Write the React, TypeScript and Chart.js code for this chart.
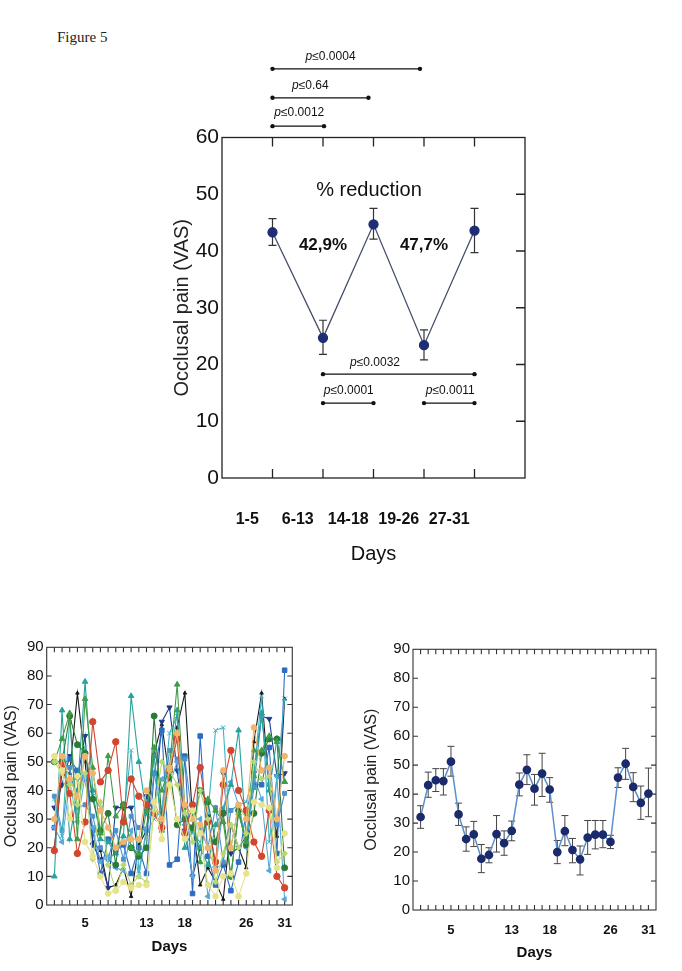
import React, { useEffect, useRef } from 'react';
import { Chart, registerables } from 'chart.js';
Chart.register(...registerables);

const FONT = 'Arial, "Liberation Sans", Helvetica, sans-serif';

// ---------- Top chart (period means) ----------
const periodLabels = ['1-5', '6-13', '14-18', '19-26', '27-31'];
const periodX = [1, 2, 3, 4, 5];
const periodMean = [43.3, 24.7, 44.7, 23.4, 43.6];
const periodLow = [41.0, 21.8, 42.1, 20.8, 39.7];
const periodHigh = [45.7, 27.8, 47.5, 26.1, 47.5];
const reductionText = ['42,9%', '47,7%'];
const reductionX = [2, 4];
const reductionY = [41, 41];
const sigFrom = [1, 1, 1, 2, 2, 4];
const sigTo = [3.92, 2.9, 2.02, 5, 3, 5];
const sigY = [72.1, 67, 62, 18.3, 13.2, 13.2];
const sigValue = ['0.0004', '0.64', '0.0012', '0.0032', '0.0001', '0.0011'];
const sigTextX = [2.15, 1.75, 1.53, 3.03, 2.51, 4.52];
const sigTextY = [74.2, 69.2, 64.4, 20.3, 15.4, 15.4];

// ---------- Bottom charts (daily) ----------
const days = [1, 2, 3, 4, 5, 6, 7, 8, 9, 10, 11, 12, 13, 14, 15, 16, 17, 18, 19, 20, 21, 22, 23, 24, 25, 26, 27, 28, 29, 30, 31];
const dayTickLabels = [5, 13, 18, 26, 31];

const sRed = [19, 49, 39, 18, 29, 64, 43, 47, 57, 29, 44, 38, 35, 32, 27, 47, 58, 25, 35, 48, 29, 15, 42, 54, 40, 33, 22, 17, 33, 10, 6];
const sOrange = [30, 52, 44, 38, 52, 46, 33, 27, 20, 22, 23, 23, 40, 36, 30, 48, 60, 35, 30, 28, 20, 12, 47, 20, 35, 30, 62, 47, 48, 30, 52];
const sYellow = [52, 47, 30, 45, 22, 17, 10, 4, 5, 8, 6, 7, 7, 36, 23, 42, 30, 23, 33, 25, 7, 3, 10, 11, 3, 11, 36, 35, 34, 13, 25];
const sLime = [50, 46, 42, 35, 46, 16, 36, 14, 5, 14, 7, 10, 8, 33, 50, 47, 42, 32, 22, 40, 30, 8, 18, 28, 20, 25, 50, 44, 45, 15, 18];
const sGreen = [50, 58, 67, 23, 72, 48, 25, 52, 31, 35, 20, 18, 33, 55, 40, 48, 77, 34, 32, 15, 37, 33, 29, 10, 32, 22, 54, 54, 59, 57, 43];
const sDarkGreen = [50, 50, 66, 56, 53, 37, 26, 32, 14, 35, 20, 17, 20, 66, 30, 48, 28, 30, 27, 40, 36, 22, 32, 10, 33, 21, 32, 53, 58, 58, 13];
const sTeal = [10, 68, 23, 40, 78, 40, 23, 22, 18, 24, 73, 50, 32, 52, 26, 45, 68, 20, 26, 20, 14, 28, 33, 42, 61, 24, 45, 67, 40, 58, 43];
const sCyan = [37, 24, 65, 30, 55, 38, 34, 15, 19, 30, 54, 12, 25, 30, 33, 60, 66, 33, 25, 22, 32, 61, 62, 20, 35, 36, 46, 73, 22, 45, 72];
const sLightBlue = [27, 22, 43, 29, 45, 27, 15, 17, 13, 12, 26, 10, 27, 36, 44, 42, 50, 28, 10, 30, 3, 13, 34, 43, 35, 20, 45, 37, 12, 45, 2];
const sBlue = [27, 49, 51, 47, 44, 26, 11, 23, 19, 21, 11, 20, 11, 46, 61, 14, 16, 52, 4, 59, 17, 7, 14, 5, 15, 33, 42, 42, 55, 18, 82];
const sNavy = [34, 42, 52, 44, 59, 21, 16, 6, 34, 34, 34, 17, 38, 32, 64, 69, 47, 26, 10, 20, 31, 13, 46, 18, 20, 24, 46, 66, 65, 45, 46];
const sBlack = [20, 47, 46, 74, 50, 22, 19, 6, 7, 13, 3, 21, 26, 53, 63, 44, 62, 74, 30, 7, 13, 8, 2, 28, 20, 13, 57, 74, 40, 24, 72];
const sSteel = [38, 26, 48, 34, 35, 31, 20, 16, 26, 16, 31, 27, 26, 46, 32, 54, 51, 51, 30, 27, 20, 34, 15, 33, 35, 22, 41, 66, 42, 28, 39];

const dailyMean = [32.1, 43.1, 44.8, 44.5, 51.2, 33.0, 24.5, 26.1, 17.7, 19.0, 26.2, 23.1, 27.3, 43.3, 48.4, 41.9, 47.1, 41.6, 20.0, 27.2, 20.7, 17.5, 25.0, 26.0, 26.0, 23.5, 45.7, 50.5, 42.5, 37.0, 40.2];
const dailyLow = [28.2, 38.9, 40.9, 39.7, 46.2, 29.2, 20.3, 21.9, 12.9, 16.3, 20.0, 18.9, 23.9, 39.4, 43.3, 36.2, 39.2, 37.2, 16.0, 22.2, 16.3, 12.1, 19.2, 21.1, 21.5, 21.2, 42.3, 45.1, 37.4, 31.3, 32.2];
const dailyHigh = [36.0, 47.6, 48.8, 48.8, 56.5, 36.9, 28.7, 30.6, 22.6, 21.5, 32.6, 27.3, 30.7, 47.3, 53.6, 46.8, 54.1, 45.7, 24.0, 32.6, 24.7, 22.1, 30.9, 30.9, 30.9, 25.8, 49.1, 55.8, 47.4, 42.8, 49.0];

const seriesStyles = [
  { data: sYellow, color: '#e6e38a', style: 'circle', rot: 0, r: 2.8 },
  { data: sOrange, color: '#f1b46c', style: 'circle', rot: 0, r: 2.8 },
  { data: sLime, color: '#b8d872', style: 'rectRot', rot: 0, r: 2.8 },
  { data: sRed, color: '#d2452f', style: 'circle', rot: 0, r: 3.2 },
  { data: sGreen, color: '#3e9d45', style: 'triangle', rot: 0, r: 3.2 },
  { data: sDarkGreen, color: '#2c7a3a', style: 'circle', rot: 0, r: 3 },
  { data: sTeal, color: '#27a39a', style: 'triangle', rot: 0, r: 3.2 },
  { data: sCyan, color: '#3fb3c6', style: 'crossRot', rot: 0, r: 3.2 },
  { data: sLightBlue, color: '#58a8dd', style: 'triangle', rot: -90, r: 3 },
  { data: sSteel, color: '#4f8fcf', style: 'rect', rot: 0, r: 2.8 },
  { data: sBlue, color: '#2d6cc2', style: 'rect', rot: 0, r: 3.2 },
  { data: sNavy, color: '#1f3c8c', style: 'triangle', rot: 180, r: 3 },
  { data: sBlack, color: '#1a1a1a', style: 'triangle', rot: 0, r: 2 },
];

// ---------- plugins ----------
function makeFrame(id: string, o: any) {
  return {
    id,
    beforeDatasetsDraw(chart: any) {
      const { ctx, chartArea: a, scales } = chart;
      ctx.save();
      ctx.strokeStyle = o.color;
      ctx.lineWidth = o.width;
      ctx.strokeRect(a.left, a.top, a.right - a.left, a.bottom - a.top);
      ctx.beginPath();
      (o.xTicks || []).forEach((v: number) => {
        const px = scales.x.getPixelForValue(v);
        ctx.moveTo(px, a.top); ctx.lineTo(px, a.top + o.len);
        ctx.moveTo(px, a.bottom); ctx.lineTo(px, a.bottom - o.len);
      });
      (o.yLeft || []).forEach((v: number) => {
        const py = scales.y.getPixelForValue(v);
        ctx.moveTo(a.left, py); ctx.lineTo(a.left + o.len, py);
      });
      (o.yRight || []).forEach((v: number) => {
        const py = scales.y.getPixelForValue(v);
        ctx.moveTo(a.right, py); ctx.lineTo(a.right - o.len, py);
      });
      ctx.stroke();
      ctx.restore();
    },
  };
}

function makeErrorBars(id: string, xs: number[], low: number[], high: number[], o: any) {
  return {
    id,
    beforeDatasetsDraw(chart: any) {
      const { ctx, scales } = chart;
      ctx.save();
      ctx.strokeStyle = o.color;
      ctx.lineWidth = o.width;
      ctx.beginPath();
      xs.forEach((xv, i) => {
        const px = scales.x.getPixelForValue(xv);
        const pl = scales.y.getPixelForValue(low[i]);
        const ph = scales.y.getPixelForValue(high[i]);
        ctx.moveTo(px, pl); ctx.lineTo(px, ph);
        ctx.moveTo(px - o.cap, ph); ctx.lineTo(px + o.cap, ph);
        ctx.moveTo(px - o.cap, pl); ctx.lineTo(px + o.cap, pl);
      });
      ctx.stroke();
      ctx.restore();
    },
  };
}

function makeTopTexts() {
  return {
    id: 'topTexts',
    afterDatasetsDraw(chart: any) {
      const { ctx, scales } = chart;
      const X = (v: number) => scales.x.getPixelForValue(v);
      const Y = (v: number) => scales.y.getPixelForValue(v);
      ctx.save();
      // end dots of the significance bars
      ctx.fillStyle = '#111';
      sigFrom.forEach((f, i) => {
        [f, sigTo[i]].forEach((xv) => {
          ctx.beginPath();
          ctx.arc(X(xv), Y(sigY[i]), 2.2, 0, Math.PI * 2);
          ctx.fill();
        });
      });
      ctx.textBaseline = 'middle';
      ctx.textAlign = 'center';
      ctx.font = `20px ${FONT}`;
      ctx.fillText('% reduction', X(2.91), Y(50.7));
      ctx.font = `bold 17px ${FONT}`;
      reductionText.forEach((t, i) => ctx.fillText(t, X(reductionX[i]), Y(reductionY[i])));
      const size = 12;
      sigValue.forEach((val, i) => {
        const fi = `italic ${size}px ${FONT}`;
        const fn = `${size}px ${FONT}`;
        ctx.font = fi;
        const w1 = ctx.measureText('p').width;
        ctx.font = fn;
        const rest = '\u2264' + val;
        const w2 = ctx.measureText(rest).width;
        const start = X(sigTextX[i]) - (w1 + w2) / 2;
        const cy = Y(sigTextY[i]);
        ctx.textAlign = 'left';
        ctx.font = fi;
        ctx.fillText('p', start, cy);
        ctx.font = fn;
        ctx.fillText(rest, start + w1, cy);
      });
      ctx.restore();
    },
  };
}

function topConfig(): any {
  return {
    type: 'line',
    data: {
      datasets: [
        {
          data: periodX.map((x, i) => ({ x, y: periodMean[i] })),
          borderColor: '#46506c',
          borderWidth: 1.3,
          pointRadius: 4.5,
          pointBackgroundColor: '#1f2d74',
          pointBorderColor: '#1f2d74',
        },
        ...sigFrom.map((f, i) => ({
          data: [{ x: f, y: sigY[i] }, { x: sigTo[i], y: sigY[i] }],
          borderColor: '#111',
          borderWidth: 1.3,
          pointRadius: 0,
          clip: false,
        })),
      ],
    },
    options: {
      responsive: false,
      animation: false,
      layout: { padding: { left: 0, top: 97.5, right: 25, bottom: 0 } },
      plugins: { legend: { display: false }, tooltip: { enabled: false } },
      scales: {
        x: {
          type: 'linear', min: 0, max: 6,
          grid: { display: false, drawTicks: false }, border: { display: false },
          afterBuildTicks: (s: any) => { s.ticks = periodX.map((v) => ({ value: v - 0.5 })); },
          afterFit: (s: any) => { s.height = 102; },
          ticks: {
            callback: (_v: any, i: number) => periodLabels[i],
            font: { size: 16, weight: 'bold', family: FONT }, color: '#111', padding: 32,
            maxRotation: 0, autoSkip: false,
          },
          title: { display: true, text: 'Days', font: { size: 20, family: FONT }, color: '#111', padding: { top: 0, bottom: 14 } },
        },
        y: {
          min: 0, max: 60,
          grid: { display: false, drawTicks: false }, border: { display: false },
          afterFit: (s: any) => { s.width = 92; },
          ticks: { stepSize: 10, font: { size: 21, family: FONT }, color: '#111', padding: 3 },
          title: { display: true, text: 'Occlusal pain (VAS)', font: { size: 20, family: FONT }, color: '#222', padding: { top: 40, bottom: 0 } },
        },
      },
    },
    plugins: [
      makeFrame('topFrame', { color: '#222', width: 1.3, len: 9, xTicks: periodX, yRight: [10, 20, 30, 40, 50] }),
      makeErrorBars('topErr', periodX, periodLow, periodHigh, { color: '#333', width: 1.2, cap: 4 }),
      makeTopTexts(),
    ],
  };
}

function bottomScales(yWidth: number, xHeight: number, tickPad: number, daysPad: number, titlePad: number): any {
  return {
    x: {
      type: 'linear', min: 0, max: 32,
      grid: { display: false, drawTicks: false }, border: { display: false },
      afterBuildTicks: (s: any) => { s.ticks = dayTickLabels.map((v) => ({ value: v })); },
      afterFit: (s: any) => { s.height = xHeight; },
      ticks: {
        callback: (_v: any, i: number) => String(dayTickLabels[i]),
        font: { size: 13, weight: 'bold', family: FONT }, color: '#111', padding: tickPad,
        maxRotation: 0, autoSkip: false,
      },
      title: { display: true, text: 'Days', font: { size: 15, weight: 'bold', family: FONT }, color: '#111', padding: { top: 0, bottom: daysPad } },
    },
    y: {
      min: 0, max: 90,
      grid: { display: false, drawTicks: false }, border: { display: false },
      afterFit: (s: any) => { s.width = yWidth; },
      ticks: { stepSize: 10, font: { size: 15, family: FONT }, color: '#111', padding: 3 },
      title: { display: true, text: 'Occlusal pain (VAS)', font: { size: 16, family: FONT }, color: '#222', padding: { top: titlePad, bottom: 0 } },
    },
  };
}

const bottomFrameOpts = {
  color: '#333', width: 1.1, len: 5, xTicks: days,
  yLeft: [10, 20, 30, 40, 50, 60, 70, 80], yRight: [10, 20, 30, 40, 50, 60, 70, 80],
};

function leftConfig(): any {
  return {
    type: 'line',
    data: {
      datasets: seriesStyles.map((s) => ({
        data: days.map((d, i) => ({ x: d, y: s.data[i] })),
        borderColor: s.color,
        borderWidth: 1.1,
        pointStyle: s.style,
        pointRotation: s.rot,
        pointRadius: s.r,
        pointBackgroundColor: s.color,
        pointBorderColor: s.color,
        pointBorderWidth: 1,
      })),
    },
    options: {
      responsive: false,
      animation: false,
      layout: { padding: { left: 0, top: 17.3, right: 27.7, bottom: 0 } },
      plugins: { legend: { display: false }, tooltip: { enabled: false } },
      scales: bottomScales(46.7, 65, 10.5, 14.5, 2),
    },
    plugins: [makeFrame('leftFrame', bottomFrameOpts)],
  };
}

function rightConfig(): any {
  return {
    type: 'line',
    data: {
      datasets: [
        {
          data: days.map((d, i) => ({ x: d, y: dailyMean[i] })),
          borderColor: '#5d8fcc',
          borderWidth: 1.5,
          pointRadius: 3.6,
          pointBackgroundColor: '#1b2a6b',
          pointBorderColor: '#1b2a6b',
        },
      ],
    },
    options: {
      responsive: false,
      animation: false,
      layout: { padding: { left: 0, top: 19.3, right: 25, bottom: 0 } },
      plugins: { legend: { display: false }, tooltip: { enabled: false } },
      scales: bottomScales(53, 60, 12.2, 8.5, 2),
    },
    plugins: [
      makeFrame('rightFrame', bottomFrameOpts),
      makeErrorBars('rightErr', days, dailyLow, dailyHigh, { color: '#444', width: 1, cap: 3.5 }),
    ],
  };
}

function ChartBox(props: { left: number; top: number; width: number; height: number; make: () => any }) {
  const ref = useRef<HTMLCanvasElement | null>(null);
  useEffect(() => {
    if (!ref.current) return;
    const chart = new Chart(ref.current, props.make());
    return () => chart.destroy();
  }, []);
  return (
    <canvas
      ref={ref}
      width={props.width}
      height={props.height}
      style={{ position: 'absolute', left: props.left, top: props.top, width: props.width, height: props.height }}
    />
  );
}

export default function App() {
  return (
    <div>
      <div
        style={{
          position: 'absolute', left: 57, top: 29,
          fontFamily: '"Times New Roman", "Liberation Serif", serif', fontSize: 15, color: '#222',
        }}
      >
        Figure 5
      </div>
      <ChartBox left={130} top={40} width={420} height={540} make={topConfig} />
      <ChartBox left={0} top={630} width={320} height={340} make={leftConfig} />
      <ChartBox left={360} top={630} width={321} height={340} make={rightConfig} />
    </div>
  );
}
